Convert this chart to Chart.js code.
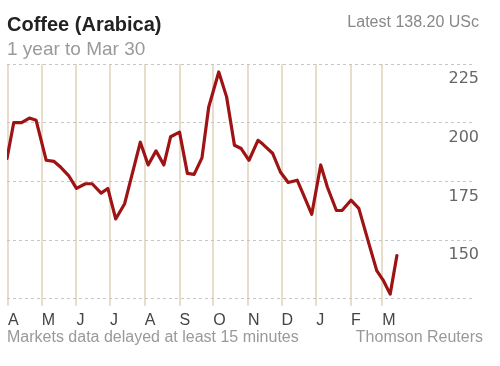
<!DOCTYPE html>
<html>
<head>
<meta charset="utf-8">
<script src="https://cdn.jsdelivr.net/npm/chart.js@4"></script>
<style>
  html, body { margin: 0; padding: 0; background: #fff; }
  canvas { display: block; }
</style>
</head>
<body>
<canvas id="coffeeChart" width="500" height="366"></canvas>
<script>
// days since Apr 1
const days = [-1, 5, 12, 19, 25, 34, 41, 47, 54, 61, 69, 75, 83, 89, 96, 104,
  118, 125, 132, 139, 145, 153, 160, 166, 173, 179, 188, 195, 202, 208, 215,
  223, 227, 236, 243, 250, 258, 263, 271, 279, 285, 293, 298, 306, 313, 322,
  329, 335, 341, 347];
const prices = [184.8, 200, 200, 202, 201, 184, 183.5, 181, 177.5, 172, 174, 174, 170, 172, 159, 165.5,
  191.7, 182, 188, 182, 194, 196, 178.4, 178, 185, 206.6, 221.6, 211, 190.4, 189, 184,
  192.5, 191, 187, 179, 174.5, 175.5, 170, 161, 182, 172.5, 162.6, 162.6, 167, 163.5, 148.5,
  137, 132.7, 127, 143.4];

const monthStarts = [0, 30, 61, 91, 122, 153, 183, 214, 244, 275, 306, 334];
const monthLabels = ["A", "M", "J", "J", "A", "S", "O", "N", "D", "J", "F", "M"];
const yTicks = [125, 150, 175, 200, 225];

const textPlugin = {
    id: "texts",
    afterDraw(chart) {
        const ctx = chart.ctx;
        ctx.save();
        ctx.textBaseline = "alphabetic";
        ctx.textAlign = "left";
        ctx.fillStyle = "#222";
        ctx.font = "bold 20px 'Liberation Sans', Arial, sans-serif";
        ctx.fillText("Coffee (Arabica)", 7, 31);
        ctx.fillStyle = "#9a9a9a";
        ctx.font = "19px 'Liberation Sans', Arial, sans-serif";
        ctx.fillText("1 year to Mar 30", 7, 55);
        ctx.textAlign = "right";
        ctx.fillStyle = "#888";
        ctx.font = "16px 'Liberation Sans', Arial, sans-serif";
        ctx.fillText("Latest 138.20 USc", 479, 27);
        ctx.fillStyle = "#999";
        ctx.fillText("Thomson Reuters", 483, 342);
        ctx.textAlign = "left";
        ctx.fillText("Markets data delayed at least 15 minutes", 7, 342);
        ctx.restore();
    }
};

const ctx = document.getElementById("coffeeChart").getContext("2d");
new Chart(ctx, {
    type: "line",
    data: {
        datasets: [{
            data: days.map((d, i) => ({ x: d, y: prices[i] })),
            borderColor: "#9e1414",
            borderWidth: 3.2,
            borderJoinStyle: "round",
            borderCapStyle: "round",
            pointRadius: 0,
            tension: 0,
            fill: false
        }]
    },
    options: {
        responsive: false,
        animation: false,
        layout: { padding: { left: 7, right: 17, top: 64, bottom: 31 } },
        plugins: { legend: { display: false }, tooltip: { enabled: false } },
        scales: {
            x: {
                type: "linear",
                min: -1,
                max: 416.7,
                afterBuildTicks: axis => { axis.ticks = monthStarts.map(v => ({ value: v })); },
                ticks: {
                    callback: (v) => monthLabels[monthStarts.indexOf(v)] || "",
                    align: "start",
                    maxRotation: 0,
                    autoSkip: false,
                    padding: 5,
                    color: "#444",
                    font: { family: "'Liberation Sans', Arial, sans-serif", size: 16 }
                },
                grid: { color: "#e8dccb", lineWidth: 2, drawTicks: true, tickLength: 7 },
                border: { display: false }
            },
            y: {
                position: "right",
                min: 125,
                max: 225,
                afterBuildTicks: axis => { axis.ticks = yTicks.map(v => ({ value: v })); },
                ticks: {
                    mirror: true,
                    labelOffset: 15,
                    padding: 4,
                    callback: v => (v === 125 ? "" : String(v)),
                    color: "#666",
                    font: { family: "'DejaVu Sans', sans-serif", size: 16 }
                },
                grid: { color: "#c6c6c6", lineWidth: 1, drawTicks: false },
                border: { display: false, dash: [3, 3] }
            }
        }
    },
    plugins: [textPlugin]
});
</script>
</body>
</html>
